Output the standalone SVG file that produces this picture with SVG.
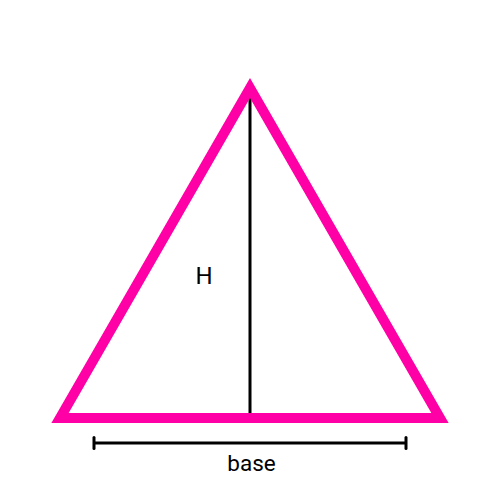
<svg xmlns="http://www.w3.org/2000/svg" width="500" height="500" viewBox="0 0 500 500">
<style>
.lbl{font-family:Roboto,"Liberation Sans",sans-serif;fill:#000}
.dim{stroke:#000;stroke-width:3;fill:none}
</style>
<rect width="500" height="500" fill="#fff"/>
<g id="connectors">
<line id="height" class="dim" x1="250" y1="97" x2="250" y2="420"/>
</g>
<g id="triangle">
<polygon points="250,88 60,418 440,418" fill="none" stroke="#ff00a6" stroke-width="10" stroke-linejoin="miter"/>
</g>
<g id="base-dim">
<line class="dim" x1="94" y1="443" x2="406" y2="443"/>
<line class="dim" x1="94" y1="437.5" x2="94" y2="448.5" stroke-linecap="round"/>
<line class="dim" x1="406" y1="437.5" x2="406" y2="448.5" stroke-linecap="round"/>
</g>
<text class="lbl" x="204" y="284" font-size="24" text-anchor="middle">H</text>
<text class="lbl" x="251.5" y="471" font-size="22.5" text-anchor="middle">base</text>
</svg>
